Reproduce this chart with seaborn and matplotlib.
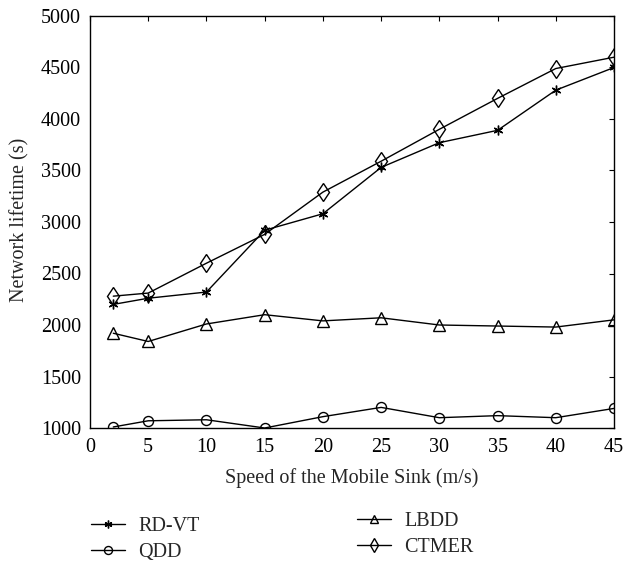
import matplotlib
matplotlib.use("Agg")
import matplotlib.pyplot as plt
import seaborn as sns
import pandas as pd

speeds = [2, 5, 10, 15, 20, 25, 30, 35, 40, 45]
rdvt = [2200, 2260, 2320, 2920, 3080, 3530, 3770, 3890, 4280, 4500]
qdd = [1010, 1070, 1080, 1000, 1110, 1200, 1100, 1120, 1100, 1190]
lbdd = [1920, 1840, 2010, 2100, 2040, 2070, 2000, 1990, 1980, 2050]
ctmer = [2280, 2310, 2600, 2880, 3290, 3590, 3900, 4200, 4490, 4600]
xticks = [0, 5, 10, 15, 20, 25, 30, 35, 40, 45]
yticks = [1000, 1500, 2000, 2500, 3000, 3500, 4000, 4500, 5000]

sns.set_style("white")
plt.rcParams['font.family'] = ['Liberation Serif', 'DejaVu Serif']

W, H = 625, 562
fig = plt.figure(figsize=(W / 100, H / 100), dpi=100)
L, R, T, B = 90, 614, 16, 428
ax = fig.add_axes([L / W, 1 - B / H, (R - L) / W, (B - T) / H])

series = [("RD-VT", rdvt, (6, 2, 0), 7),
          ("QDD", qdd, "o", 7.2),
          ("LBDD", lbdd, "^", 8),
          ("CTMER", ctmer, "d", 9.5)]
for name, vals, mk, ms in series:
    df = pd.DataFrame({"x": speeds, "y": vals})
    sns.lineplot(data=df, x="x", y="y", ax=ax, color="black", lw=1.0,
                 marker=mk, markersize=ms, markerfacecolor="none",
                 markeredgecolor="black", markeredgewidth=1.0, label=name,
                 legend=False)

ax.set_xlim(0, 45)
ax.set_ylim(1000, 5000)
ax.set_xticks(xticks)
ax.set_yticks(yticks)
ax.tick_params(direction="in", top=True, right=True, length=3.8, width=0.8,
               labelsize=14.5, colors="black")
ax.tick_params(axis="x", pad=7)
ax.tick_params(axis="y", pad=6.5)
for s in ax.spines.values():
    s.set_visible(True)
    s.set_color("black")
    s.set_linewidth(1.0)
ax.set_xlabel("Speed of the Mobile Sink (m/s)", fontsize=14.5, va="center")
ax.set_ylabel("Network lifetime (s)", fontsize=14.5, va="center")
ax.xaxis.set_label_coords(0.5, (B - 478) / (B - T))
ax.yaxis.set_label_coords((20 - L) / (R - L), (B - 220) / (B - T))

handles, labels = ax.get_legend_handles_labels()
common = dict(frameon=False, fontsize=14.5, handlelength=1.7, numpoints=1,
              labelspacing=0.34, handletextpad=0.65, borderpad=0,
              borderaxespad=0, loc="center left", markerscale=0.8)
leg1 = fig.legend(handles[:2], labels[:2],
                  bbox_to_anchor=(91 / W, 1 - 539.5 / H), **common)
leg2 = fig.legend(handles[2:], labels[2:],
                  bbox_to_anchor=(357 / W, 1 - 534.5 / H), **common)

fig.savefig("out.png", dpi=100)
